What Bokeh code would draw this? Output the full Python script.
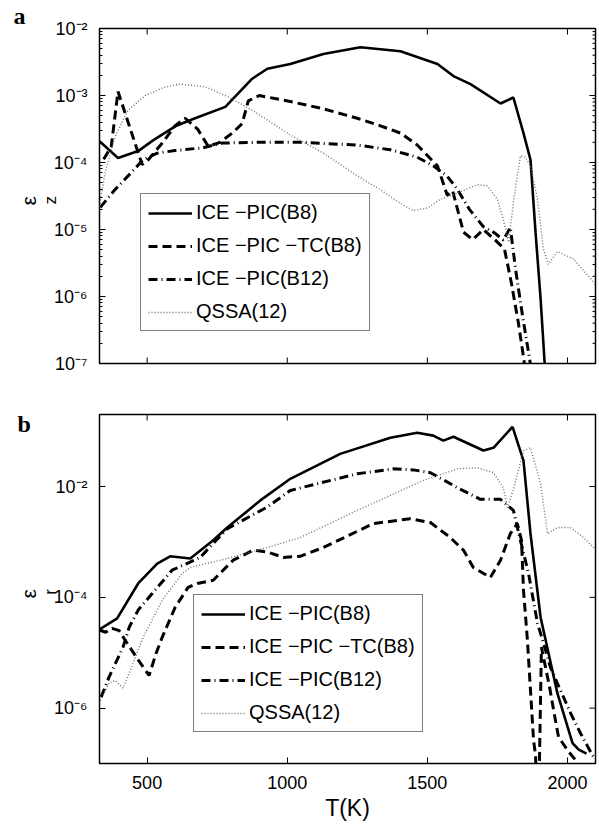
import math
from bokeh.plotting import figure
from bokeh.models import (Range1d, FixedTicker, CustomJSTickFormatter, LogAxis,
                          Legend, LegendItem, Title)
from bokeh.layouts import column
from bokeh.embed import file_html
from bokeh.resources import INLINE

# ---------------- data: panel a (epsilon_z) ----------------
a_b8_T = [329, 396, 468, 521, 600, 671, 779, 875, 929, 1011, 1129, 1261, 1404, 1536, 1593, 1654,
          1761, 1807, 1843, 1868, 1886, 1904, 1918, 1925]
a_b8_e = [2.09e-4, 1.17e-4, 1.48e-4, 2.14e-4, 3.47e-4, 4.57e-4, 6.76e-4, 1.78e-3, 2.51e-3, 2.95e-3,
          4.17e-3, 5.25e-3, 4.57e-3, 2.95e-3, 1.95e-3, 1.48e-3, 7.59e-4, 9.33e-4, 2.75e-4, 1.10e-4,
          9.12e-6, 9.33e-7, 1.10e-7, 3e-8]

a_tc_T = [345, 372, 396, 440, 482, 504, 554, 600, 636, 680, 718, 760, 804, 839, 861, 900, 1011,
          1130, 1250, 1330, 1404, 1464, 1536, 1571, 1590, 1629, 1662, 1700, 1740, 1775, 1800, 1825,
          1845, 1852]
a_tc_e = [1.12e-4, 1.74e-4, 1.15e-3, 3.16e-4, 9.33e-5, 1.10e-4, 1.95e-4, 3.55e-4, 4.57e-4, 3.16e-4,
          1.74e-4, 2.0e-4, 2.75e-4, 3.80e-4, 8.32e-4, 1.0e-3, 8.13e-4, 6.31e-4, 4.57e-4, 3.55e-4,
          2.75e-4, 1.82e-4, 8.91e-5, 3.24e-5, 3.80e-5, 9.12e-6, 7.08e-6, 1.0e-5, 7.08e-6, 5.13e-6,
          1.58e-6, 3.98e-7, 1.10e-7, 5e-8]

a_b12_T = [333, 382, 432, 486, 536, 600, 700, 768, 896, 1046, 1250, 1368, 1464, 1521, 1570, 1607,
           1650, 1700, 1740, 1771, 1796, 1815, 1840, 1866, 1872]
a_b12_e = [2.14e-5, 3.80e-5, 6.31e-5, 1.10e-4, 1.38e-4, 1.51e-4, 1.66e-4, 1.95e-4, 2.0e-4, 2.0e-4,
           1.82e-4, 1.55e-4, 1.20e-4, 8.91e-5, 6.31e-5, 3.98e-5, 2.0e-5, 1.10e-5, 8.91e-6, 6.92e-6,
           1.07e-5, 2.51e-6, 5.01e-7, 1.10e-7, 5e-8]

a_qs_T = [330, 350, 386, 432, 493, 560, 618, 707, 789, 875, 1011, 1129, 1250, 1330, 1400, 1450,
          1500, 1546, 1610, 1679, 1714, 1750, 1771, 1790, 1810, 1832, 1850, 1868, 1893, 1914, 1932,
          1964, 2021, 2082, 2100]
a_qs_e = [2.24e-5, 7.08e-5, 2.45e-4, 6.03e-4, 1.0e-3, 1.32e-3, 1.48e-3, 1.35e-3, 9.55e-4, 6.03e-4,
          2.57e-4, 1.38e-4, 6.31e-5, 3.98e-5, 2.51e-5, 1.91e-5, 2.09e-5, 2.82e-5, 3.55e-5, 4.68e-5,
          4.47e-5, 2.82e-5, 1.41e-5, 6.46e-6, 3.16e-5, 1.26e-4, 1.20e-4, 8.91e-5, 2.82e-5, 5.13e-6,
          3.02e-6, 4.68e-6, 3.63e-6, 1.86e-6, 1.51e-6]

# ---------------- data: panel b (epsilon_r) ----------------
b_b8_T = [330, 393, 468, 536, 582, 654, 736, 786, 904, 1011, 1189, 1368, 1464, 1521, 1557, 1593,
          1700, 1736, 1804, 1843, 1868, 1904, 1964, 2018, 2040, 2068]
b_b8_e = [2.63e-5, 4.17e-5, 1.78e-4, 4.07e-4, 5.50e-4, 5.01e-4, 1.07e-3, 1.82e-3, 5.62e-3, 1.38e-2,
          3.89e-2, 7.59e-2, 9.33e-2, 8.32e-2, 6.76e-2, 7.94e-2, 4.47e-2, 5.01e-2, 1.20e-1, 2.95e-2,
          1.41e-3, 4.37e-5, 1.86e-6, 2.34e-7, 1.78e-7, 1.51e-7]

b_tc_T = [330, 352, 375, 400, 421, 468, 507, 532, 554, 600, 646, 679, 736, 807, 879, 929, 986,
          1046, 1129, 1307, 1439, 1511, 1582, 1629, 1664, 1725, 1761, 1796, 1821, 1836, 1843, 1857,
          1868, 1879, 1886, 1890, 1898, 1907, 1936, 1957, 1968, 2000, 2029, 2040]
b_tc_e = [2.57e-5, 2.34e-5, 2.75e-5, 2.51e-5, 1.70e-5, 7.41e-6, 3.89e-6, 9.77e-6, 1.91e-5, 6.61e-5,
          1.51e-4, 1.78e-4, 2.04e-4, 4.68e-4, 7.08e-4, 6.61e-4, 5.25e-4, 5.50e-4, 7.94e-4, 2.14e-3,
          2.63e-3, 2.24e-3, 1.20e-3, 7.08e-4, 3.47e-4, 2.29e-4, 4.68e-4, 1.41e-3, 2.14e-3, 1.07e-3,
          1.35e-4, 1.70e-5, 2.09e-6, 2.63e-7, 1.41e-7, 3e-8, 3e-8, 1.26e-5, 2.40e-6, 6.03e-7,
          3.02e-7, 1.74e-7, 1.15e-7, 5e-8]

b_b12_T = [336, 364, 414, 436, 468, 518, 589, 689, 786, 929, 1011, 1250, 1379, 1450, 1511, 1607,
           1689, 1761, 1807, 1832, 1861, 1893, 1911, 1939, 1975, 2011, 2046, 2089, 2100]
b_b12_e = [1.58e-6, 3.63e-6, 1.26e-5, 2.88e-5, 5.89e-5, 1.17e-4, 3.09e-4, 5.25e-4, 1.74e-3, 4.27e-3,
           8.51e-3, 1.70e-2, 2.09e-2, 2.0e-2, 1.78e-2, 9.55e-3, 5.89e-3, 5.89e-3, 3.72e-3, 1.07e-3,
           2.69e-4, 3.39e-5, 1.70e-5, 5.50e-6, 2.09e-6, 8.13e-7, 3.55e-7, 1.41e-7, 1.2e-7]

b_qs_T = [329, 364, 386, 414, 436, 486, 554, 625, 654, 786, 929, 1046, 1250, 1486, 1607, 1679,
          1736, 1771, 1786, 1810, 1843, 1868, 1904, 1929, 1964, 2011, 2057, 2093, 2100]
b_qs_e = [1.23e-6, 2.82e-6, 3.16e-6, 2.29e-6, 4.27e-6, 1.91e-5, 8.91e-5, 2.69e-4, 3.47e-4, 5.01e-4,
          7.94e-4, 1.20e-3, 3.72e-3, 1.29e-2, 2.09e-2, 2.19e-2, 1.78e-2, 9.55e-3, 4.17e-3, 1.0e-2,
          4.47e-2, 5.01e-2, 1.12e-2, 1.41e-3, 1.82e-3, 1.82e-3, 1.20e-3, 7.94e-4, 7.6e-4]

series_names = ["ICE \u2212PIC(B8)", "ICE \u2212PIC \u2212TC(B8)", "ICE \u2212PIC(B12)", "QSSA(12)"]
x_ticks = [500, 1000, 1500, 2000]
a_y_ticks = [1e-7, 1e-6, 1e-5, 1e-4, 1e-3, 1e-2]
b_y_ticks = [1e-6, 1e-4, 1e-2]
X_LO, X_HI = 330, 2100

FONT = "Liberation Sans"
SUPFMT = CustomJSTickFormatter(code="""
const e = Math.round(Math.log10(tick));
const sup = {'-':'\u207B','0':'\u2070','1':'\u00B9','2':'\u00B2','3':'\u00B3','4':'\u2074',
             '5':'\u2075','6':'\u2076','7':'\u2077','8':'\u2078','9':'\u2079'};
return '10' + String(e).split('').map(c => sup[c]).join('');
""")

styles = [
    dict(line_color="black", line_width=2.6),
    dict(line_color="black", line_width=3.0, line_dash="9 5"),
    dict(line_color="black", line_width=3.0, line_dash="9 4 1 4"),
    dict(line_color="#707070", line_width=1.4, line_dash="1 2"),
]


def mirror_ticks(p, xs_top, ys_lo_hi, ys_right, ys_minor, xs_bottom=None):
    """Inward tick marks on frame edges that carry no labels (clipped half-dashes)."""
    y_lo, y_hi = ys_lo_hi
    p.scatter(xs_top, [y_hi] * len(xs_top), marker="dash", size=12, angle=math.pi / 2,
              line_color="black", line_width=1)
    if xs_bottom:
        p.scatter(xs_bottom, [y_lo] * len(xs_bottom), marker="dash", size=12, angle=math.pi / 2,
                  line_color="black", line_width=1)
    p.scatter([X_HI] * len(ys_right), ys_right, marker="dash", size=12,
              line_color="black", line_width=1)
    if ys_minor:
        p.scatter([X_HI] * len(ys_minor), ys_minor, marker="dash", size=6,
                  line_color="black", line_width=1)


def label_axis(text, size):
    """A tick-less axis that only carries a rotated label."""
    return LogAxis(ticker=FixedTicker(ticks=[]), axis_line_color=None, major_tick_line_color=None,
                   minor_tick_line_color=None, major_tick_out=0, major_tick_in=0,
                   minor_tick_out=0, minor_tick_in=0, major_label_standoff=0,
                   axis_label=text, axis_label_standoff=0, axis_label_text_font=FONT,
                   axis_label_text_font_size=size, axis_label_text_font_style="normal",
                   axis_label_text_color="black", axis_label_orientation=math.pi / 2)


def make_panel(height, top, bottom, yr, yticks, minor, data, legend_xy, show_x_axis,
               eps_text, sub_text):
    p = figure(width=599, height=height, x_axis_type="linear", y_axis_type="log",
               x_range=Range1d(X_LO, X_HI), y_range=Range1d(*yr),
               output_backend="svg", toolbar_location=None,
               min_border_left=99, min_border_right=4, min_border_top=top,
               min_border_bottom=bottom)
    p.background_fill_color = "white"
    p.border_fill_color = "white"
    p.xgrid.visible = False
    p.ygrid.visible = False
    p.outline_line_color = "black"
    p.outline_line_width = 1.5
    p.outline_line_alpha = 1.0

    xa = p.xaxis[0]
    if show_x_axis:
        xa.ticker = FixedTicker(ticks=x_ticks)
        xa.axis_line_color = None
        xa.major_tick_in = 6
        xa.major_tick_out = 0
        xa.major_tick_line_color = "black"
        xa.minor_tick_line_color = None
        xa.major_label_text_font = FONT
        xa.major_label_text_color = "black"
        xa.major_label_standoff = 12
        xa.major_label_text_font_size = "18px"
        xa.axis_label = "T(K)"
        xa.axis_label_text_font = FONT
        xa.axis_label_text_font_size = "23px"
        xa.axis_label_text_font_style = "normal"
        xa.axis_label_standoff = 3
        xa.axis_label_text_color = "black"
    else:
        xa.visible = False

    ya = p.yaxis[0]
    ya.ticker = FixedTicker(ticks=yticks, minor_ticks=minor)
    ya.formatter = SUPFMT
    ya.axis_line_color = None
    ya.major_tick_in = 6
    ya.major_tick_out = 0
    ya.minor_tick_in = 3
    ya.minor_tick_out = 0
    ya.major_label_text_font = FONT
    ya.major_label_text_font_size = "18px"
    ya.major_label_text_color = "black"
    ya.major_label_standoff = 12

    # y label: epsilon with subscript -> two label-only axes (subscript nearer the frame)
    p.add_layout(label_axis(sub_text, "17px"), "left")
    p.add_layout(label_axis(eps_text, "21px"), "left")

    renderers = []
    for (T, e), st in zip(data, styles):
        r = p.line(T, e, **st)
        renderers.append(r)

    mirror_ticks(p, x_ticks, yr, yticks, minor, None if show_x_axis else x_ticks)

    items = [LegendItem(label=n, renderers=[r]) for n, r in zip(series_names, renderers)]
    leg = Legend(items=items, location=legend_xy, orientation="vertical",
                 label_text_font=FONT, label_text_font_size="20px", label_text_color="black",
                 glyph_width=44, glyph_height=20, label_height=20, label_standoff=4,
                 spacing=10, padding=7, margin=0,
                 border_line_color="black", border_line_width=1.5,
                 background_fill_color="white", background_fill_alpha=1.0)
    p.add_layout(leg, "center")
    return p


minor_a = [m * 10.0 ** k for k in range(-7, -2) for m in range(2, 10)]

p1 = make_panel(388, 24, 25, (1e-7, 1e-2), a_y_ticks, minor_a,
                [(a_b8_T, a_b8_e), (a_tc_T, a_tc_e), (a_b12_T, a_b12_e), (a_qs_T, a_qs_e)],
                (41, 32), False, "\u03b5", "z")
p2 = make_panel(444, 26, 69, (1e-7, 0.2), b_y_ticks, [],
                [(b_b8_T, b_b8_e), (b_tc_T, b_tc_e), (b_b12_T, b_b12_e), (b_qs_T, b_qs_e)],
                (94, 31), True, "\u03b5", "r")

# panel letters
p1.add_layout(Title(text="a", align="left", offset=-86, standoff=0,
                    text_font="Liberation Serif", text_font_style="bold", text_font_size="24px",
                    text_color="black"), "above")
p2.add_layout(Title(text="b", align="left", offset=-82, standoff=-45,
                    text_font="Liberation Serif", text_font_style="bold", text_font_size="24px",
                    text_color="black"), "above")

layout = column(p1, p2, spacing=0)
open("out.html", "w").write(file_html(layout, INLINE))
